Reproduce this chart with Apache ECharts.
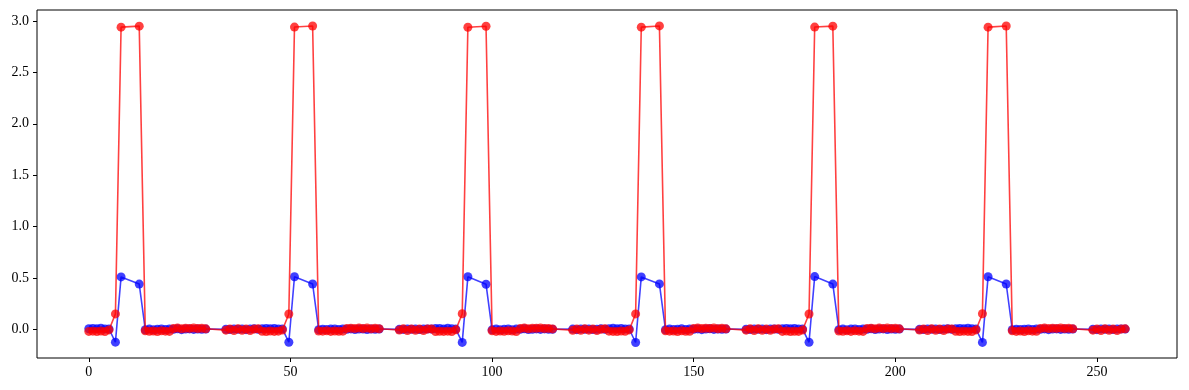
<!DOCTYPE html>
<html>
<head>
<meta charset="utf-8">
<script src="https://cdn.jsdelivr.net/npm/echarts@6/dist/echarts.min.js"></script>
<style>
html,body{margin:0;padding:0;background:#fff;}
#chart{width:1189px;height:390px;}
</style>
</head>
<body>
<div id="chart"></div>
<script>
// x positions of the samples
const xValues = [
  0,1,2,3,4,5,6.6,8,12.5,14,15,16,17,18,19,20,21,22,23,24,25,26,27,28,29,34,35,36,37,38,39,40,41,42,
  43,44,45,46,47,48,49.6,51,55.5,57,58,59,60,61,62,63,64,65,66,67,68,69,70,71,72,77,78,79,80,81,82,83,84,85,
  86,87,88,89,90,91,92.6,94,98.5,100,101,102,103,104,105,106,107,108,109,110,111,112,113,114,115,120,121,122,123,124,125,126,127,128,
  129,130,131,132,133,134,135.6,137,141.5,143,144,145,146,147,148,149,150,151,152,153,154,155,156,157,158,163,164,165,166,167,168,169,170,171,
  172,173,174,175,176,177,178.6,180,184.5,186,187,188,189,190,191,192,193,194,195,196,197,198,199,200,201,206,207,208,209,210,211,212,213,214,
  215,216,217,218,219,220,221.6,223,227.5,229,230,231,232,233,234,235,236,237,238,239,240,241,242,243,244,249,250,251,252,253,254,255,256,257
];
// blue series
const blueValues = [
  0.006,0.009,0.005,0.010,0.004,0.003,-0.125,0.510,0.440,-0.004,0.002,-0.003,0.001,0.004,-0.002,0.003,0.000,0.005,-0.003,0.002,0.004,-0.001,0.003,0.000,0.002,0.001,-0.002,0.004,0.000,0.003,-0.003,0.002,0.005,0.001,
  0.005,0.008,0.006,0.009,0.003,0.004,-0.126,0.512,0.441,-0.003,0.001,-0.002,0.002,0.003,-0.001,0.004,0.001,0.004,-0.002,0.003,0.003,-0.002,0.002,0.001,0.003,0.000,-0.001,0.003,0.001,0.002,-0.002,0.003,0.004,0.002,
  0.007,0.008,0.004,0.010,0.005,0.002,-0.127,0.511,0.439,-0.005,0.003,-0.003,0.000,0.004,-0.003,0.002,0.001,0.005,-0.002,0.001,0.004,-0.001,0.004,0.000,0.001,0.002,-0.003,0.004,0.001,0.002,-0.002,0.001,0.005,0.000,
  0.006,0.010,0.005,0.008,0.004,0.003,-0.128,0.510,0.442,-0.004,0.002,-0.002,0.001,0.005,-0.002,0.003,0.000,0.004,-0.003,0.002,0.005,-0.001,0.003,0.001,0.002,0.001,-0.002,0.003,0.000,0.004,-0.003,0.002,0.004,0.001,
  0.005,0.009,0.006,0.009,0.004,0.002,-0.126,0.513,0.440,-0.003,0.002,-0.003,0.002,0.004,-0.002,0.002,0.001,0.005,-0.002,0.002,0.004,-0.002,0.003,0.000,0.002,0.000,-0.002,0.004,0.001,0.003,-0.002,0.002,0.005,0.001,
  0.006,0.008,0.005,0.010,0.005,0.003,-0.127,0.511,0.441,-0.004,0.001,-0.002,0.001,0.003,-0.001,0.003,0.000,0.004,-0.003,0.003,0.004,-0.001,0.002,0.001,0.002,0.001,-0.003,0.004,0.000,0.003,-0.002,0.002,0.004,0.002
];
// red series
const redValues = [
  -0.020,-0.018,-0.022,-0.017,-0.021,-0.006,0.150,2.940,2.950,-0.015,-0.019,-0.016,-0.021,-0.014,-0.018,-0.020,0.008,0.012,0.006,0.011,0.009,0.013,0.007,0.010,0.005,-0.008,0.004,-0.012,0.006,-0.009,0.003,-0.011,0.002,0.005,
  -0.019,-0.021,-0.017,-0.020,-0.018,-0.007,0.149,2.941,2.951,-0.016,-0.018,-0.015,-0.020,-0.016,-0.019,-0.018,0.009,0.011,0.007,0.012,0.008,0.012,0.006,0.011,0.006,-0.007,0.005,-0.011,0.004,-0.010,0.002,-0.012,0.003,0.004,
  -0.021,-0.019,-0.020,-0.018,-0.022,-0.005,0.151,2.939,2.949,-0.014,-0.020,-0.017,-0.019,-0.015,-0.017,-0.021,0.007,0.013,0.006,0.010,0.010,0.012,0.008,0.009,0.004,-0.009,0.003,-0.010,0.005,-0.008,0.004,-0.012,0.001,0.006,
  -0.018,-0.020,-0.021,-0.017,-0.019,-0.006,0.150,2.940,2.952,-0.015,-0.018,-0.016,-0.022,-0.014,-0.019,-0.019,0.008,0.012,0.007,0.011,0.009,0.013,0.006,0.010,0.005,-0.008,0.005,-0.011,0.006,-0.009,0.002,-0.010,0.003,0.005,
  -0.020,-0.017,-0.022,-0.019,-0.020,-0.007,0.149,2.941,2.950,-0.016,-0.019,-0.015,-0.020,-0.015,-0.018,-0.020,0.009,0.011,0.006,0.012,0.008,0.012,0.007,0.011,0.005,-0.007,0.004,-0.012,0.005,-0.010,0.003,-0.011,0.002,0.004,
  -0.019,-0.021,-0.018,-0.020,-0.021,-0.006,0.151,2.940,2.951,-0.015,-0.020,-0.016,-0.021,-0.014,-0.018,-0.019,0.008,0.012,0.007,0.010,0.009,0.013,0.007,0.010,0.006,-0.008,0.004,-0.011,0.006,-0.009,0.003,-0.012,0.002,0.005
];
const xTicks = [0, 50, 100, 150, 200, 250];
const yTicks = [0.0, 0.5, 1.0, 1.5, 2.0, 2.5, 3.0];

const blueData = xValues.map((x, i) => [x, blueValues[i]]);
const redData = xValues.map((x, i) => [x, redValues[i]]);

const font = 'Liberation Serif, DejaVu Serif, serif';
const chart = echarts.init(document.getElementById('chart'), null, {renderer: 'canvas'});
chart.setOption({
  animation: false,
  backgroundColor: '#fff',
  grid: {
    left: 37, right: 12, top: 10, bottom: 32,
    show: true, borderColor: '#000', borderWidth: 1,
    containLabel: false, outerBoundsMode: 'none'
  },
  xAxis: {
    type: 'value', min: -12.85, max: 269.85, position: 'bottom',
    axisLine: {show: false, onZero: false},
    splitLine: {show: false},
    axisTick: {show: true, length: 4, lineStyle: {color: '#000', width: 1}, customValues: xTicks},
    axisLabel: {color: '#000', fontFamily: font, fontSize: 14, margin: 7, customValues: xTicks,
      formatter: v => String(v)}
  },
  yAxis: {
    type: 'value', min: -0.279, max: 3.107, position: 'left',
    axisLine: {show: false, onZero: false},
    splitLine: {show: false},
    axisTick: {show: true, length: 4, lineStyle: {color: '#000', width: 1}, customValues: yTicks},
    axisLabel: {color: '#000', fontFamily: font, fontSize: 14, margin: 8, customValues: yTicks,
      formatter: v => v.toFixed(1)}
  },
  series: [
    {
      type: 'line', data: blueData, z: 2,
      symbol: 'circle', symbolSize: 9, showAllSymbol: true,
      lineStyle: {color: '#0000ff', width: 1.6, opacity: 0.75},
      itemStyle: {color: '#0000ff', opacity: 0.75, borderWidth: 0},
      emphasis: {disabled: true}
    },
    {
      type: 'line', data: redData, z: 3,
      symbol: 'circle', symbolSize: 9, showAllSymbol: true,
      lineStyle: {color: '#ff0000', width: 1.6, opacity: 0.75},
      itemStyle: {color: '#ff0000', opacity: 0.75, borderWidth: 0},
      emphasis: {disabled: true}
    }
  ]
});
</script>
</body>
</html>
